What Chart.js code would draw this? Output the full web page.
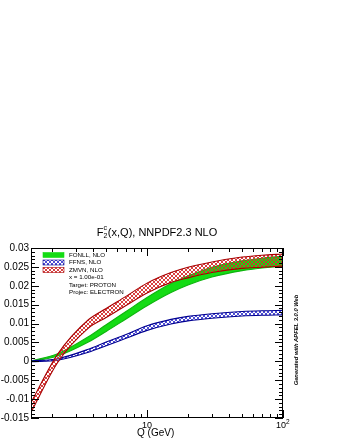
<!DOCTYPE html>
<html>
<head>
<meta charset="utf-8">
<script src="https://cdn.jsdelivr.net/npm/chart.js@4.4.1/dist/chart.umd.min.js"></script>
<style>
  html, body { margin: 0; padding: 0; background: #fff; }
  #wrap { width: 340px; height: 440px; }
</style>
</head>
<body>
<div id="wrap"><canvas id="chart" width="340" height="440"></canvas></div>
<script>
/* ── F2c(x,Q) bands — FONLL / FFNS / ZMVN ─────────────────────────────────── */

const Q = [1.4, 2.2, 3.7, 5, 7, 10, 15, 20, 30, 50, 70, 100];

// band edges
const FONLL_HI = [0.0001, 0.0020, 0.0065, 0.0097, 0.0132, 0.0169, 0.0206, 0.0226, 0.0249, 0.0266, 0.0273, 0.0278];
const FONLL_LO = [-0.0001, 0.0014, 0.0051, 0.0079, 0.0112, 0.0147, 0.0182, 0.0202, 0.0223, 0.0240, 0.0247, 0.0252];
const FFNS_HI  = [0.0001, 0.0007, 0.0032, 0.0051, 0.0071, 0.0094, 0.0111, 0.0119, 0.0126, 0.0132, 0.0134, 0.0135];
const FFNS_LO  = [-0.0001, 0.0003, 0.0024, 0.0041, 0.0061, 0.0082, 0.0099, 0.0107, 0.0114, 0.0120, 0.0122, 0.0123];
const ZMVN_HI  = [-0.0109, 0.0019, 0.0110, 0.0140, 0.0172, 0.0207, 0.0235, 0.0249, 0.0263, 0.0276, 0.0281, 0.0284];
const ZMVN_LO  = [-0.0135, -0.0003, 0.0088, 0.0116, 0.0148, 0.0181, 0.0209, 0.0221, 0.0235, 0.0246, 0.0249, 0.0252];

const Y_TICKS  = [-0.015, -0.01, -0.005, 0, 0.005, 0.01, 0.015, 0.02, 0.025, 0.03];
const Y_LABELS = ['-0.015', '-0.01', '-0.005', '0', '0.005', '0.01', '0.015', '0.02', '0.025', '0.03'];
const X_MAJOR  = [10, 100];
const X_LABELS = ['10', '10^2'];
const X_MINOR  = [2, 3, 4, 5, 6, 7, 8, 9, 20, 30, 40, 50, 60, 70, 80, 90];

const LEGEND = ['FONLL, NLO', 'FFNS, NLO', 'ZMVN, NLO'];
const INFO   = ['x = 1.00e-01', 'Target: PROTON', 'Projec: ELECTRON'];

const FONT = '"Liberation Sans", Arial, sans-serif';

// ── Helpers ──────────────────────────────────────────────────────────────────
function hatch(color, size) {
  const c = document.createElement('canvas');
  c.width = c.height = size;
  const g = c.getContext('2d');
  g.strokeStyle = color;
  g.lineWidth = 0.9;
  g.beginPath();
  g.moveTo(0, size); g.lineTo(size, 0);
  g.moveTo(-1, 1);   g.lineTo(1, -1);
  g.moveTo(size - 1, size + 1); g.lineTo(size + 1, size - 1);
  g.moveTo(0, 0); g.lineTo(size, size);
  g.stroke();
  return g.createPattern(c, 'repeat');
}

const RED_FILL  = hatch('#d42a2a', 4);
const BLUE_FILL = hatch('#3a3ad0', 4);
const GREEN_FILL = '#14dc14';

const pts = arr => arr.map((v, i) => ({ x: Q[i], y: v }));

function edge(data, color, order, fill, bg) {
  return {
    data: pts(data),
    borderColor: color,
    borderWidth: 1.1,
    backgroundColor: bg || 'transparent',
    fill: fill,
    pointRadius: 0,
    cubicInterpolationMode: 'monotone',
    order: order,
  };
}

// ── Frame, ticks and texts ───────────────────────────────────────────────────
const decor = {
  id: 'decor',
  afterDraw(chart) {
    const ctx = chart.ctx;
    const { left, right, top, bottom } = chart.chartArea;
    const xs = chart.scales.x, ys = chart.scales.y;
    ctx.save();
    ctx.strokeStyle = '#000';
    ctx.lineWidth = 1;

    // frame
    ctx.strokeRect(left + 0.5, top + 0.5, right - left - 1, bottom - top - 1);

    // y ticks, left and right (inside)
    ctx.beginPath();
    for (let k = -15; k <= 30; k++) {
      const py = Math.round(ys.getPixelForValue(k / 1000)) + 0.5;
      const len = k % 5 === 0 ? 8 : 4;
      ctx.moveTo(left, py);  ctx.lineTo(left + len, py);
      ctx.moveTo(right, py); ctx.lineTo(right - len, py);
    }
    // x ticks, bottom and top (inside)
    X_MAJOR.concat(X_MINOR).forEach(q => {
      const px = Math.round(xs.getPixelForValue(q)) + 0.5;
      const len = X_MAJOR.includes(q) ? 8 : 4;
      ctx.moveTo(px, bottom); ctx.lineTo(px, bottom - len);
      ctx.moveTo(px, top);    ctx.lineTo(px, top + len);
    });
    ctx.stroke();

    // y labels
    ctx.fillStyle = '#000';
    ctx.font = '10px ' + FONT;
    ctx.textAlign = 'right';
    ctx.textBaseline = 'middle';
    Y_TICKS.forEach((v, i) => ctx.fillText(Y_LABELS[i], left - 2, ys.getPixelForValue(v)));

    // x labels
    ctx.textAlign = 'center';
    X_MAJOR.forEach((q, i) => {
      const px = xs.getPixelForValue(q);
      const [base, exp] = X_LABELS[i].split('^');
      ctx.font = '9px ' + FONT;
      if (exp) {
        const w = ctx.measureText(base).width;
        ctx.fillText(base, px - 2, 426);
        ctx.font = '6.5px ' + FONT;
        ctx.textAlign = 'left';
        ctx.fillText(exp, px - 2 + w / 2, 422);
        ctx.textAlign = 'center';
      } else {
        ctx.fillText(base, px, 426);
      }
    });
    ctx.font = '10px ' + FONT;
    ctx.textAlign = 'left';
    ctx.fillText('Q (GeV)', 137, 433);

    // title  F_2^c(x,Q), NNPDF2.3 NLO
    const rest = '(x,Q), NNPDF2.3 NLO';
    ctx.font = '11px ' + FONT;
    const wF = ctx.measureText('F').width, wR = ctx.measureText(rest).width;
    ctx.font = '7px ' + FONT;
    const wS = ctx.measureText('2').width + 0.5;
    let tx = (left + right) / 2 - (wF + wS + wR) / 2;
    ctx.font = '11px ' + FONT;
    ctx.fillText('F', tx, 233);
    ctx.font = '7px ' + FONT;
    ctx.fillText('2', tx + wF, 236.5);
    ctx.fillText('c', tx + wF, 228.5);
    ctx.font = '11px ' + FONT;
    ctx.fillText(rest, tx + wF + wS, 233);

    // legend
    const rowY = [255, 262.5, 270];
    const sw = [GREEN_FILL, BLUE_FILL, RED_FILL];
    const sb = ['#14dc14', '#000088', '#aa0000'];
    rowY.forEach((y, i) => {
      ctx.fillStyle = sw[i];
      ctx.fillRect(43, y - 2.5, 21, 5);
      ctx.strokeStyle = sb[i];
      ctx.lineWidth = 0.6;
      ctx.strokeRect(43, y - 2.5, 21, 5);
    });
    ctx.fillStyle = '#000';
    ctx.font = '6.2px ' + FONT;
    LEGEND.forEach((t, i) => ctx.fillText(t, 69, rowY[i]));
    INFO.forEach((t, i) => ctx.fillText(t, 69, 277.5 + i * 7.3));

    // side note
    ctx.translate(296.5, 340);
    ctx.rotate(-Math.PI / 2);
    ctx.textAlign = 'center';
    ctx.font = 'italic bold 5.8px ' + FONT;
    ctx.fillText('Generated with APFEL 3.0.0 Web', 0, 0);
    ctx.restore();
  },
};

// ── Chart ────────────────────────────────────────────────────────────────────
new Chart(document.getElementById('chart'), {
  type: 'line',
  data: {
    datasets: [
      edge(FONLL_HI, '#0fb40f', 3, false),
      edge(FONLL_LO, '#0fb40f', 3, '-1', GREEN_FILL),
      edge(FFNS_HI, '#000090', 2, false),
      edge(FFNS_LO, '#000090', 2, '-1', BLUE_FILL),
      edge(ZMVN_HI, '#a80000', 1, false),
      edge(ZMVN_LO, '#a80000', 1, '-1', RED_FILL),
    ],
  },
  options: {
    responsive: false,
    animation: false,
    layout: { padding: { left: 31, right: 57, top: 248, bottom: 22 } },
    plugins: { legend: { display: false }, tooltip: { enabled: false } },
    scales: {
      x: { type: 'logarithmic', min: 1.4, max: 100, display: false },
      y: { type: 'linear', min: -0.015, max: 0.03, display: false },
    },
  },
  plugins: [decor],
});
</script>
</body>
</html>
